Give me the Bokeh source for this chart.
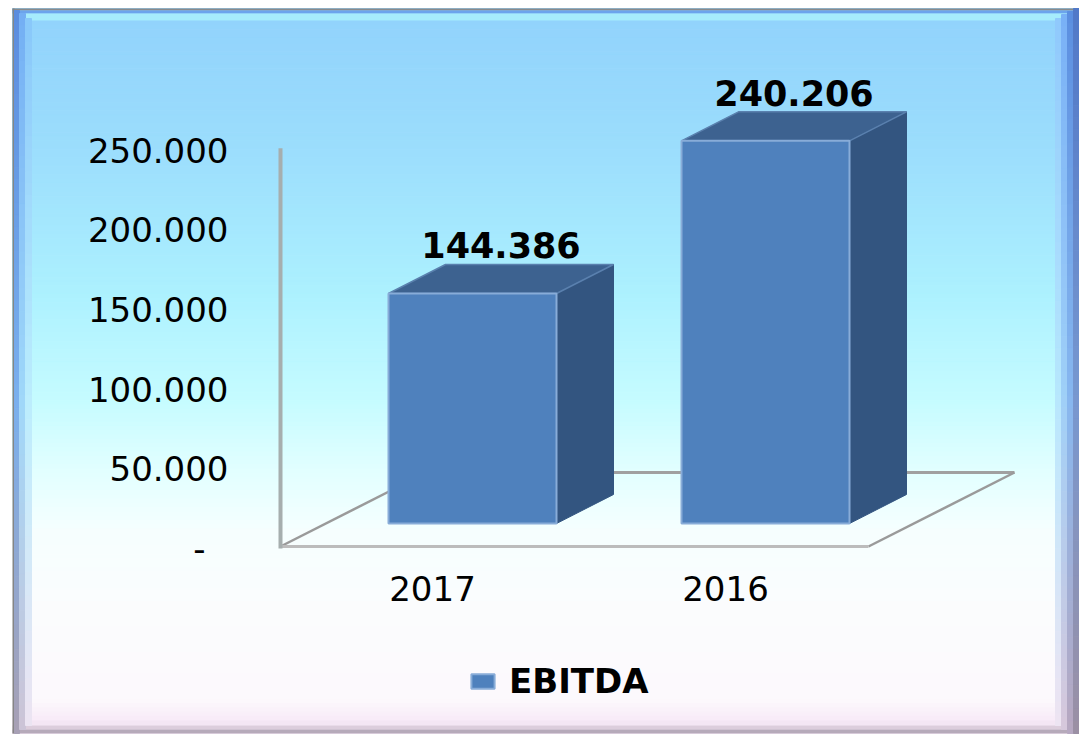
import numpy as np
from bokeh.plotting import figure
from bokeh.models import Range1d, ColumnDataSource, Legend, LegendItem
from bokeh.core.properties import value
from bokeh.embed import file_html
from bokeh.resources import INLINE

# ---------------- data ----------------
categories = ["2017", "2016"]
ebitda = [144386, 240206]
value_labels = ["144.386", "240.206"]
y_ticks = [0, 50000, 100000, 150000, 200000, 250000]
y_tick_labels = ["-", "50.000", "100.000", "150.000", "200.000", "250.000"]
series_name = "EBITDA"

# ---------------- layout constants (pixels) ----------------
W, H = 1079, 734
BASE_PX = 523            # canvas y of value 0 (bar base)
PX_PER_UNIT = 0.001593   # vertical scale
SLOT_PX = 293            # distance between category centres
FIRST_CENTER_PX = 472    # canvas x of first bar front-face centre
FRONT_W_PX = 168
DEPTH_DX, DEPTH_DY = 57, 29
AXIS_SHIFT_PX = 25
FONT = "DejaVu Sans"

x_lo = -FIRST_CENTER_PX / SLOT_PX
x_hi = (W - FIRST_CENTER_PX) / SLOT_PX
y_lo = -(H - BASE_PX) / PX_PER_UNIT
y_hi = BASE_PX / PX_PER_UNIT

p = figure(width=W, height=H, x_range=Range1d(x_lo, x_hi), y_range=Range1d(y_lo, y_hi),
           output_backend="svg", toolbar_location=None, min_border=0,
           x_axis_type=None, y_axis_type=None)
p.extra_x_ranges = {"px": Range1d(0, W)}
p.extra_y_ranges = {"px": Range1d(H, 0)}
p.grid.visible = False
p.outline_line_color = None
p.background_fill_color = "white"
p.border_fill_color = "white"


def hex2rgb(h):
    h = h.lstrip("#")
    return [int(h[i:i + 2], 16) for i in (0, 2, 4)]


def vgrad(x0, x1, y0, y1, stops, n=120):
    ys = np.linspace(y0, y1, n + 1)
    mids = (ys[:-1] + ys[1:]) / 2
    pos = [s[0] for s in stops]
    cols = np.array([hex2rgb(s[1]) for s in stops], dtype=float)
    r = np.interp(mids, pos, cols[:, 0])
    g = np.interp(mids, pos, cols[:, 1])
    b = np.interp(mids, pos, cols[:, 2])
    colors = ["#%02x%02x%02x" % (int(a), int(c), int(d)) for a, c, d in zip(r, g, b)]
    src = ColumnDataSource(dict(left=[x0] * n, right=[x1] * n, top=ys[:-1], bottom=ys[1:], c=colors))
    p.quad(left="left", right="right", top="top", bottom="bottom", fill_color="c", line_color="c",
           line_width=1, source=src, x_range_name="px", y_range_name="px")


def band(x0, x1, y0, y1, color):
    p.quad(left=[x0], right=[x1], top=[y0], bottom=[y1], fill_color=color, line_color=None,
           x_range_name="px", y_range_name="px")


# background gradient
vgrad(12, W, 8, 733, [(14, "#92d3fc"), (150, "#9cdefd"), (300, "#aef2ff"), (400, "#c6fcff"),
                      (470, "#e2ffff"), (530, "#f6ffff"), (600, "#fbfdfe"), (700, "#fdf9fd"),
                      (722, "#f8eaf8")], n=170)
# top bevel
band(12, W, 8, 10, "#8a8a8a")
band(12, W, 10, 13, "#6ca4ec")
band(12, W, 13, 20, "#a6ecfc")
# bottom bevel
band(12, W, 720, 725, "#f4e6f4")
band(12, W, 725, 729, "#dccddc")
band(12, W, 729, 733, "#b6aaba")
# left bevel
band(12, 14, 8, 733, "#858585")
vgrad(14, 19, 10, 733, [(0, "#5a8cde"), (400, "#7ab0ee"), (734, "#a8a0b4")], n=60)
vgrad(19, 25, 13, 729, [(0, "#72aef4"), (400, "#a0d8fa"), (734, "#cec4d6")], n=60)
vgrad(25, 31, 18, 725, [(0, "#86c6fa"), (400, "#bceefe"), (734, "#eee4f2")], n=60)
# right bevel
vgrad(1055, 1061, 18, 725, [(0, "#8ec8fc"), (400, "#b8e8fe"), (734, "#f0e4f2")], n=60)
vgrad(1061, 1067, 14, 729, [(0, "#78b0f6"), (400, "#a0d0f8"), (734, "#d8c8dc")], n=60)
vgrad(1067, 1073, 11, 733, [(0, "#5a8ee0"), (400, "#88b8f0"), (734, "#b8a8c0")], n=60)
vgrad(1073, W, 8, 733, [(0, "#5078c8"), (400, "#7898d0"), (734, "#9c90a4")], n=60)

# ---------------- floor & axis line (pixel geometry) ----------------
FLOOR_L, FLOOR_R, FLOOR_FRONT = 280, 868, 546
FLOOR_DX, FLOOR_DY = 146, 74
p.segment(x0=[FLOOR_L + FLOOR_DX], y0=[FLOOR_FRONT - FLOOR_DY], x1=[FLOOR_R + FLOOR_DX],
          y1=[FLOOR_FRONT - FLOOR_DY], line_color="#a0a0a0", line_width=3,
          x_range_name="px", y_range_name="px")
p.segment(x0=[FLOOR_L, FLOOR_R], y0=[FLOOR_FRONT, FLOOR_FRONT],
          x1=[FLOOR_L + FLOOR_DX, FLOOR_R + FLOOR_DX], y1=[FLOOR_FRONT - FLOOR_DY] * 2,
          line_color="#9a9a9a", line_width=2.5, x_range_name="px", y_range_name="px")
p.segment(x0=[FLOOR_L], y0=[FLOOR_FRONT], x1=[FLOOR_R], y1=[FLOOR_FRONT],
          line_color="#bcbcbc", line_width=3, x_range_name="px", y_range_name="px")

# vertical axis line (in value units, shifted like the tick labels)
axis_shift = AXIS_SHIFT_PX / PX_PER_UNIT
p.segment(x0=[FLOOR_L], x1=[FLOOR_L], y0=[0 - axis_shift], y1=[max(y_ticks) - axis_shift + 2 / PX_PER_UNIT],
          line_color="#a6aeae", line_width=4, x_range_name="px")

# ---------------- bars ----------------
idx = np.arange(len(categories), dtype=float)
half = FRONT_W_PX / 2 / SLOT_PX
ddx = DEPTH_DX / SLOT_PX
ddy = DEPTH_DY / PX_PER_UNIT
vals = np.array(ebitda, dtype=float)
lefts = idx - half
rights = idx + half

side_xs = [[r, r + ddx, r + ddx, r] for r in rights]
side_ys = [[0, ddy, v + ddy, v] for v in vals]
top_xs = [[l, l + ddx, r + ddx, r] for l, r in zip(lefts, rights)]
top_ys = [[v, v + ddy, v + ddy, v] for v in vals]

p.patches(xs=side_xs, ys=side_ys, fill_color="#335580", line_color="#335580", line_width=1)
p.patches(xs=top_xs, ys=top_ys, fill_color="#3d6290", line_color="#5a80ae", line_width=1.5)
front = p.quad(left=lefts, right=rights, bottom=[0] * len(vals), top=vals,
               fill_color="#4f81bd", line_color="#88acd8", line_width=2)

# value labels
p.text(x=idx + ddx / 2, y=vals, text=value_labels, text_align="center", text_baseline="middle",
       y_offset=-48, text_font=value(FONT), text_font_style="bold", text_font_size="35px",
       text_color="black")

# category labels
p.text(x=idx, y=[0] * len(categories), text=categories, text_align="center", text_baseline="middle",
       x_offset=-40, y_offset=65, text_font=value(FONT), text_font_size="34px", text_color="black")

# y tick labels
tick_x_off = [-23 if t == 0 else 0 for t in y_ticks]
p.text(x=[228] * len(y_ticks), y=y_ticks, text=y_tick_labels, x_offset=tick_x_off,
       y_offset=AXIS_SHIFT_PX, text_align="right", text_baseline="middle",
       text_font=value(FONT), text_font_size="34px", text_color="black", x_range_name="px")

# legend
legend = Legend(items=[LegendItem(label=series_name, renderers=[front])], location=(468, 33),
                orientation="horizontal", glyph_width=29, glyph_height=18, label_standoff=12,
                padding=0, margin=0, spacing=0, border_line_color=None, background_fill_alpha=0,
                label_text_font=FONT, label_text_font_style="bold", label_text_font_size="34px",
                label_text_color="black")
p.add_layout(legend, "center")

open("out.html", "w").write(file_html(p, INLINE))
